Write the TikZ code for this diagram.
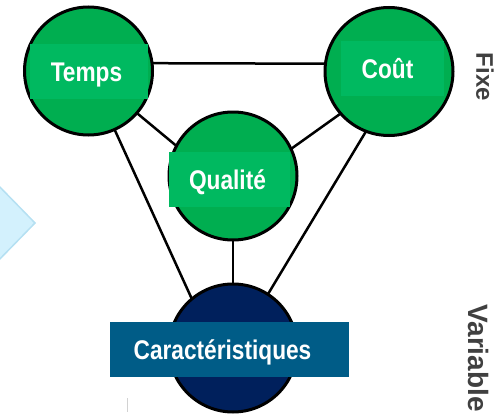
\documentclass[tikz,border=0pt]{standalone}
\usepackage{fontspec}
\setmainfont{Liberation Sans}
\newfontfamily\narrowsans{Liberation Sans}[FakeStretch=0.84]
\usetikzlibrary{backgrounds}
\definecolor{ballgreen}{HTML}{00AE50}
\definecolor{taggreen}{HTML}{00B960}
\definecolor{ballnavy}{HTML}{00205C}
\definecolor{tagblue}{HTML}{005C87}
\definecolor{sidegray}{HTML}{404040}
\definecolor{paleblue}{HTML}{D3F1FD}
\definecolor{paleedge}{HTML}{B5E0F2}

\begin{document}
\begin{tikzpicture}[x=1pt,y=-1pt,
  ball/.style={circle, draw=black, line width=3pt, minimum size=128pt,
    inner sep=0pt, outer sep=0pt},
  tag/.style={rectangle, inner sep=0pt, minimum height=55pt,
    text height=19.3pt, text depth=0pt, text=white,
    font=\narrowsans\bfseries\fontsize{27}{30}\selectfont},
  link/.style={draw=black, line width=2.5pt},
  side/.style={text=sidegray, rotate=-90, inner sep=0pt}
]
\useasboundingbox (0,0) rectangle (501,415);

% pale arrow tip at the left border
\filldraw[fill=paleblue, draw=paleedge, line width=1.5pt]
  (-5,182) -- (35,223) -- (-5,264) -- cycle;

% the four constraints
\node[ball, fill=ballgreen] (temps)   at (88.5,71)  {};
\node[ball, fill=ballgreen] (cout)    at (389,71.5) {};
\node[ball, fill=ballgreen] (qualite) at (233,176)  {};
\node[ball, fill=ballnavy]  (carac)   at (233,348)  {};

% links behind the circles
\begin{scope}[on background layer]
  \draw[link] (temps.7)      -- (cout.173);
  \draw[link] (temps.-41.5)  -- (qualite.152);
  \draw[link] (cout.-139)    -- (qualite.25);
  \draw[link] (temps.-66.5)  -- (carac.130);
  \draw[link] (cout.-111.5)  -- (carac.57.5);
  \draw[link] (qualite.south) -- (carac.north);
\end{scope}

% name tags
\node[tag, fill=taggreen, minimum width=118pt] (ttemps)   at (89,71.5)    {Temps\hspace*{5pt}};
\node[tag, fill=taggreen, minimum width=103pt] (tcout)    at (392.5,68.5) {Coût\hspace*{10pt}};
\node[tag, fill=taggreen, minimum width=121pt] (tqualite) at (229.5,179.5) {Qualité\hspace*{4pt}};
\node[tag, fill=tagblue,  minimum width=239pt] (tcarac)   at (229.5,349.5) {Caractéristiques\hspace*{14pt}};

% side captions
\node[side, font=\bfseries\fontsize{24}{28}\selectfont] (fixe) at (485,77) {Fixe};
\node[side, font=\bfseries\fontsize{28}{32}\selectfont] (variable) at (479,358) {Variable};

% small tick near the bottom
\draw[gray!35, line width=1pt] (127,398) -- (127,412);
\end{tikzpicture}
\end{document}
